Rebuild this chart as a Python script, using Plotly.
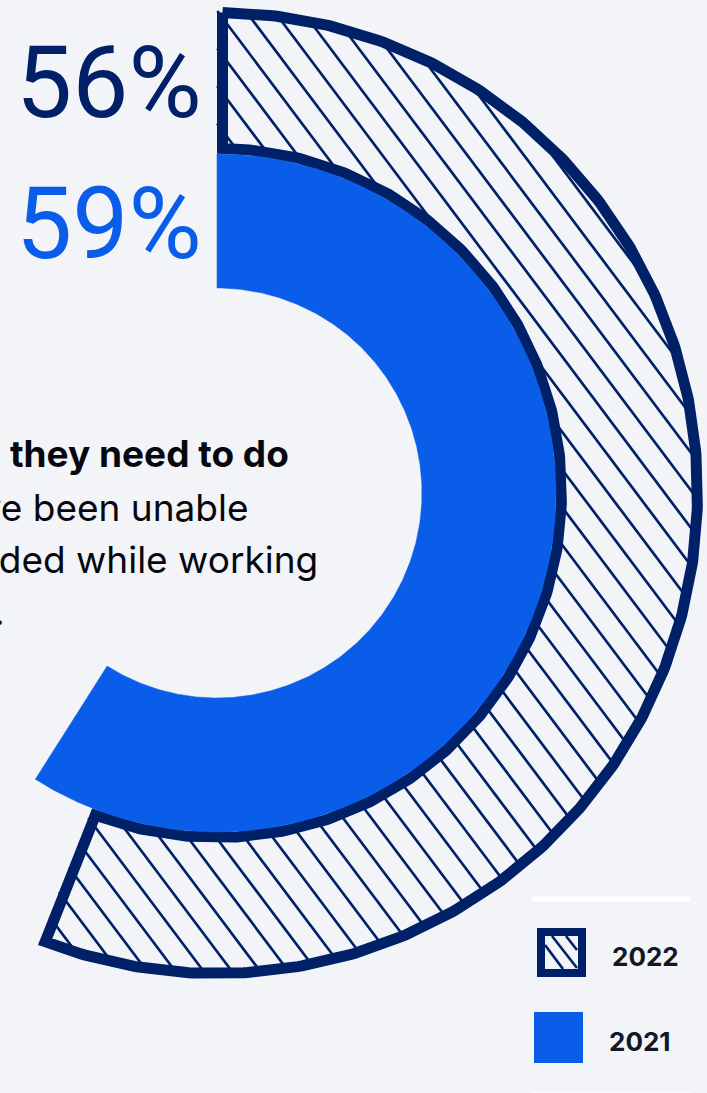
import numpy as np
import plotly.graph_objects as go

# ---- data -------------------------------------------------------------
years = ["2022", "2021"]
shares = [56, 59]                      # percent of respondents
share_labels = ["56%", "59%"]
caption_lines = [
    "<b>Employees don't have the information they need to do</b>",
    "<b>their jobs well.</b> Many have been unable",
    "to find the information they needed while working",
    "remotely.",
]

# ---- styling ------------------------------------------------------------
BG = "#F2F4F8"
NAVY = "#002067"
BLUE = "#0A5DE8"
INK = "#07080F"
FONT = "Inter"
NUM_FONT = "Roboto"

W, H = 707, 1093
CX, CY = 217, 493                      # ring centre on the page (px)
RING_2022 = (339, 486)                 # inner / outer radius (px)
RING_2021 = (205, 339)
STROKE = 11                            # outline width of the 2022 ring

HATCH_SLOPE = 1.33                     # screen dy/dx of the hatch lines
HATCH_STEP = 28.3                      # horizontal gap between hatch lines
HATCH_PHASE = 11.0


def polar_xy(r, theta_deg):
    """theta measured clockwise from 12 o'clock; y points up."""
    t = np.radians(theta_deg)
    return r * np.sin(t), r * np.cos(t)


def sweep(pct):
    return 360.0 * pct / 100.0


def ring_polygon(r_in, r_out, t_end, inset=0.0, n=400):
    """Closed outline of an annular sector starting at 12 o'clock."""
    ro, ri = r_out - inset, r_in + inset
    do = np.degrees(np.arcsin(inset / ro)) if inset else 0.0
    di = np.degrees(np.arcsin(inset / ri)) if inset else 0.0
    xo, yo = polar_xy(ro, np.linspace(do, t_end - do, n))
    xi, yi = polar_xy(ri, np.linspace(t_end - di, di, n))
    x = np.concatenate([xo, xi, xo[:1]])
    y = np.concatenate([yo, yi, yo[:1]])
    return x, y


def hatch_segments(r_in, r_out, t_end):
    """Diagonal hatch lines clipped to an annular sector."""
    xs, ys = [], []
    yy = np.arange(-H, H, 0.5)
    inv = 1.0 / HATCH_SLOPE
    ks = np.arange(-60, 60) * HATCH_STEP + HATCH_PHASE - CX + CY * inv
    for k in ks:
        xx = k - yy * inv
        r = np.hypot(xx, yy)
        th = np.degrees(np.arctan2(xx, yy)) % 360
        inside = (r >= r_in) & (r <= r_out) & (th <= t_end)
        if not inside.any():
            continue
        idx = np.flatnonzero(inside)
        breaks = np.flatnonzero(np.diff(idx) > 1)
        starts = np.concatenate([[idx[0]], idx[breaks + 1]])
        ends = np.concatenate([idx[breaks], [idx[-1]]])
        for s, e in zip(starts, ends):
            xs += [xx[s], xx[e], None]
            ys += [yy[s], yy[e], None]
    return xs, ys


fig = go.Figure()

share = dict(zip(years, shares))
t22 = sweep(share["2022"])
t21 = sweep(share["2021"])

# 2022: hatched ring with a navy outline
hx, hy = hatch_segments(RING_2022[0] + 2, RING_2022[1] - 2, t22)
fig.add_trace(go.Scatter(x=hx, y=hy, mode="lines",
                         line=dict(color=NAVY, width=2.7),
                         hoverinfo="skip", showlegend=False))
ox, oy = ring_polygon(*RING_2022, t22, inset=STROKE / 2)
fig.add_trace(go.Scatter(x=ox, y=oy, mode="lines", name="2022",
                         line=dict(color=NAVY, width=STROKE),
                         hoverinfo="skip", showlegend=False))

# 2021: solid blue ring
bx, by = ring_polygon(*RING_2021, t21)
fig.add_trace(go.Scatter(x=bx, y=by, mode="lines", fill="toself",
                         fillcolor=BLUE, line=dict(color=BLUE, width=0.5),
                         name="2021", hoverinfo="skip", showlegend=False))


def px(X):
    return X / W


def py(Y):
    return 1 - Y / H


annotations = [
    dict(text=share_labels[0], x=px(204), y=py(83), xanchor="right",
         yanchor="middle", font=dict(family=NUM_FONT, size=100, color=NAVY)),
    dict(text=share_labels[1], x=px(204), y=py(223), xanchor="right",
         yanchor="middle", font=dict(family=NUM_FONT, size=100, color=BLUE)),
]
caption_right = [291, 251, 320, 7]
caption_mid = [454, 507, 559, 611]
for line, xr, ym in zip(caption_lines, caption_right, caption_mid):
    annotations.append(dict(text=line, x=px(xr), y=py(ym), xanchor="right",
                            yanchor="middle", align="right",
                            font=dict(family=FONT, size=37, color=INK)))

annotations += [
    dict(text="<b>2022</b>", x=px(610), y=py(956), xanchor="left",
         yanchor="middle", font=dict(family=FONT, size=26, color="#111827")),
    dict(text="<b>2021</b>", x=px(607), y=py(1041), xanchor="left",
         yanchor="middle", font=dict(family=FONT, size=26, color="#111827")),
]
for a in annotations:
    a.update(xref="paper", yref="paper", showarrow=False)

shapes = [
    # divider rules
    dict(type="line", x0=px(532), x1=px(690), y0=py(899), y1=py(899),
         line=dict(color="#FFFFFF", width=5)),
    dict(type="line", x0=px(532), x1=px(690), y0=py(1095), y1=py(1095),
         line=dict(color="#FFFFFF", width=5)),
    # legend swatches
    dict(type="rect", x0=px(541), x1=px(582), y0=py(932), y1=py(973),
         line=dict(color=NAVY, width=8), fillcolor=BG),
    dict(type="rect", x0=px(534), x1=px(583), y0=py(1012), y1=py(1063),
         line=dict(width=0), fillcolor=BLUE),
]
# hatch inside the 2022 swatch
for (x0, y0, x1, y1) in [(545, 945, 563, 969), (552, 936, 577, 968),
                         (566, 936, 577, 950)]:
    shapes.append(dict(type="line", x0=px(x0), y0=py(y0), x1=px(x1),
                       y1=py(y1), line=dict(color=NAVY, width=2.6)))
for s in shapes:
    s.update(xref="paper", yref="paper")

fig.update_layout(
    width=W, height=H,
    margin=dict(l=0, r=0, t=0, b=0),
    paper_bgcolor=BG, plot_bgcolor=BG,
    xaxis=dict(range=[-CX, W - CX], visible=False, fixedrange=True),
    yaxis=dict(range=[CY - H, CY], visible=False, fixedrange=True),
    annotations=annotations,
    shapes=shapes,
    showlegend=False,
)

fig.write_html("out.html", config={"displayModeBar": False})
